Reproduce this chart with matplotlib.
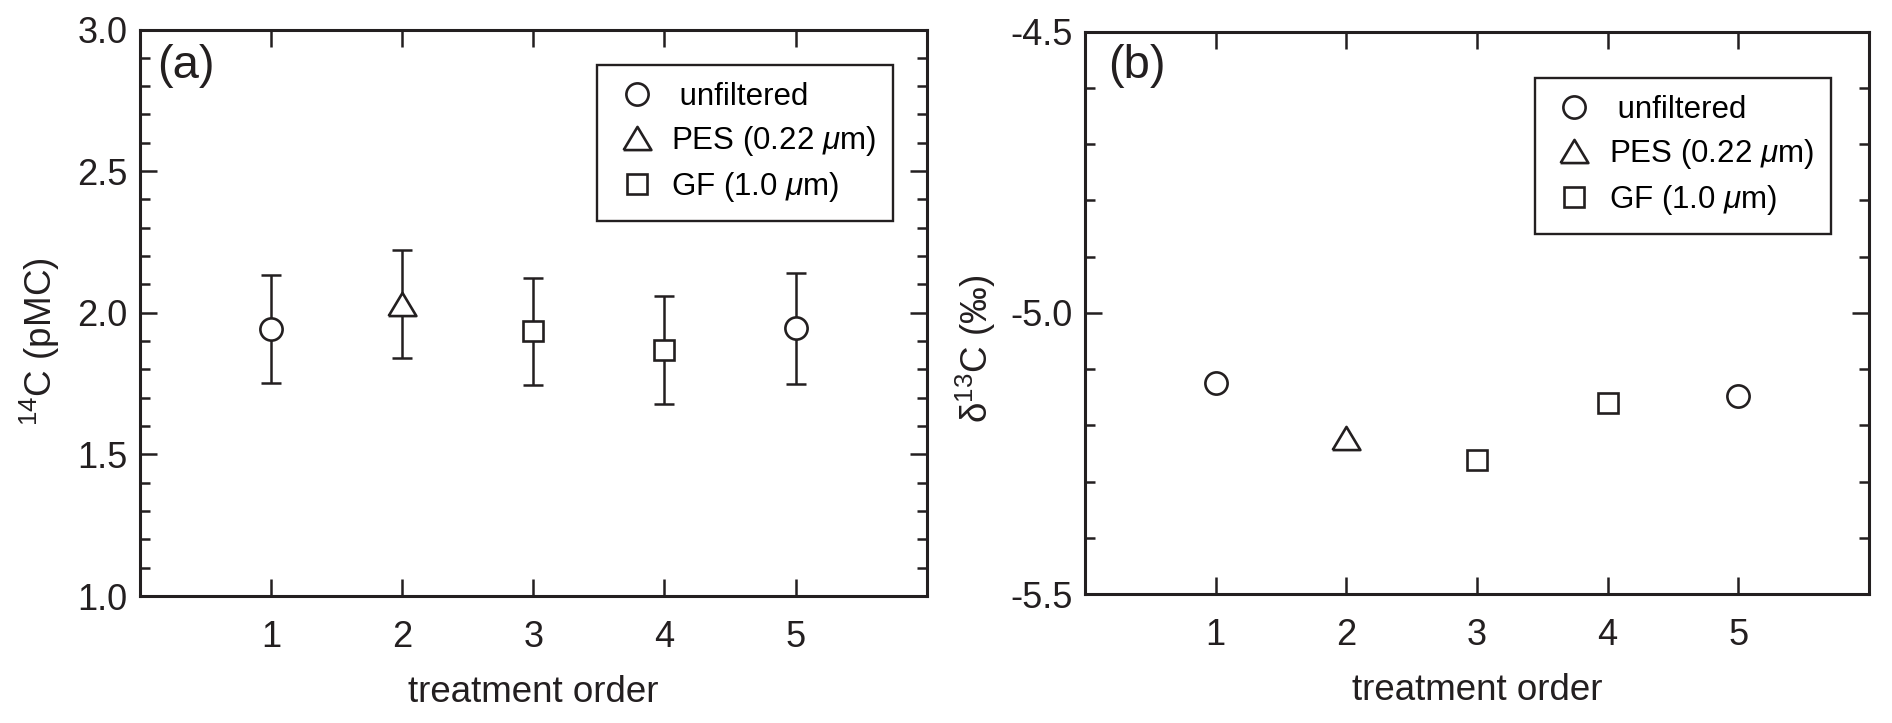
import matplotlib
matplotlib.use('Agg')
import matplotlib.pyplot as plt
from matplotlib.ticker import MultipleLocator, FixedLocator, FormatStrFormatter

# ---------------- data ----------------
order = [1, 2, 3, 4, 5]
treatment = ['unfiltered', 'PES', 'GF', 'GF', 'unfiltered']
c14_pmc = [1.942, 2.031, 1.934, 1.869, 1.945]
c14_err = [0.19, 0.19, 0.19, 0.19, 0.195]
d13c = [-5.125, -5.222, -5.262, -5.160, -5.147]

legend_labels = {'unfiltered': ' unfiltered',
                 'PES': r'PES (0.22 $\mu$m)',
                 'GF': r'GF (1.0 $\mu$m)'}
legend_order = ['unfiltered', 'PES', 'GF']
x_ticks = [1, 2, 3, 4, 5]

# ---------------- style ----------------
plt.rcParams['font.family'] = ['Liberation Sans', 'DejaVu Sans']
plt.rcParams['mathtext.fontset'] = 'custom'
plt.rcParams['mathtext.rm'] = 'Liberation Sans'
plt.rcParams['mathtext.it'] = 'Liberation Sans:italic'
plt.rcParams['mathtext.sf'] = 'Liberation Sans'
plt.rcParams['axes.unicode_minus'] = False

INK = '#231f20'
TICK_FS = 26
LABEL_FS = 26.5
LEG_FS = 22.5
tri = [(-0.6, -0.5), (0.6, -0.5), (0.0, 0.5), (-0.6, -0.5)]
marker_style = {
    'unfiltered': dict(marker='o', markersize=16),
    'PES': dict(marker=tri, markersize=20),
    'GF': dict(marker='s', markersize=15),
}

W, H = 1892, 723
fig = plt.figure(figsize=(W / 100, H / 100), dpi=100)
ax1 = fig.add_axes([140 / W, 1 - 596 / H, (926.7 - 140) / W, (596 - 29.5) / H])
ax2 = fig.add_axes([1085 / W, 1 - 594 / H, (1869 - 1085) / W, (594 - 31.7) / H])


def style_axes(ax):
    for s in ax.spines.values():
        s.set_linewidth(2.2)
        s.set_color(INK)
    ax.tick_params(which='both', direction='in', top=True, right=True,
                   width=1.8, color=INK, labelcolor=INK, labelsize=TICK_FS)
    ax.tick_params(which='major', length=12)
    ax.tick_params(which='minor', length=7)
    ax.tick_params(axis='y', pad=9)
    ax.tick_params(axis='x', pad=17)
    ax.set_xlim(0, 6)
    ax.xaxis.set_major_locator(FixedLocator(x_ticks))
    ax.yaxis.set_minor_locator(MultipleLocator(0.1))
    ax.yaxis.set_major_formatter(FormatStrFormatter('%.1f'))
    ax.set_xlabel('treatment order', fontsize=LABEL_FS, color=INK, labelpad=15)


def draw(ax, yvals, yerr=None):
    for t in legend_order:
        idx = [i for i, tt in enumerate(treatment) if tt == t]
        xs = [order[i] for i in idx]
        ys = [yvals[i] for i in idx]
        if yerr is not None:
            es = [yerr[i] for i in idx]
            ax.errorbar(xs, ys, yerr=es, fmt='none', ecolor=INK, elinewidth=1.8,
                        capsize=7, capthick=1.8, zorder=2)
        ax.plot(xs, ys, linestyle='none', mfc='white', mec=INK, mew=1.9,
                zorder=3, label=legend_labels[t], **marker_style[t])


def add_legend(ax, anchor):
    leg = ax.legend(loc='upper right', bbox_to_anchor=anchor, fontsize=LEG_FS,
                    frameon=True, fancybox=False, framealpha=1, edgecolor=INK,
                    labelspacing=0.38, handletextpad=0.4, borderpad=0.55,
                    handlelength=1.4, borderaxespad=0)
    leg.get_frame().set_linewidth(1.7)
    return leg


# panel (a)
draw(ax1, c14_pmc, c14_err)
style_axes(ax1)
ax1.set_ylim(1.0, 3.0)
ax1.yaxis.set_major_locator(MultipleLocator(0.5))
ax1.set_ylabel(r'$^{\mathrm{14}}$C (pMC)', fontsize=LABEL_FS, color=INK)
ax1.yaxis.set_label_coords(-0.099, 0.448)
ax1.text(0.0216, 0.975, '(a)', transform=ax1.transAxes, fontsize=34,
         ha='left', va='top', color=INK)
add_legend(ax1, (0.957, 0.937))

# panel (b)
draw(ax2, d13c)
style_axes(ax2)
ax2.set_ylim(-5.5, -4.5)
ax2.yaxis.set_major_locator(MultipleLocator(0.5))
ax2.set_ylabel('δ$^{\\mathrm{13}}$C (‰)', fontsize=LABEL_FS, color=INK)
ax2.yaxis.set_label_coords(-0.111, 0.436)
ax2.text(0.029, 0.978, '(b)', transform=ax2.transAxes, fontsize=34,
         ha='left', va='top', color=INK)
add_legend(ax2, (0.951, 0.918))

fig.savefig('out.png', dpi=100, facecolor='white')
